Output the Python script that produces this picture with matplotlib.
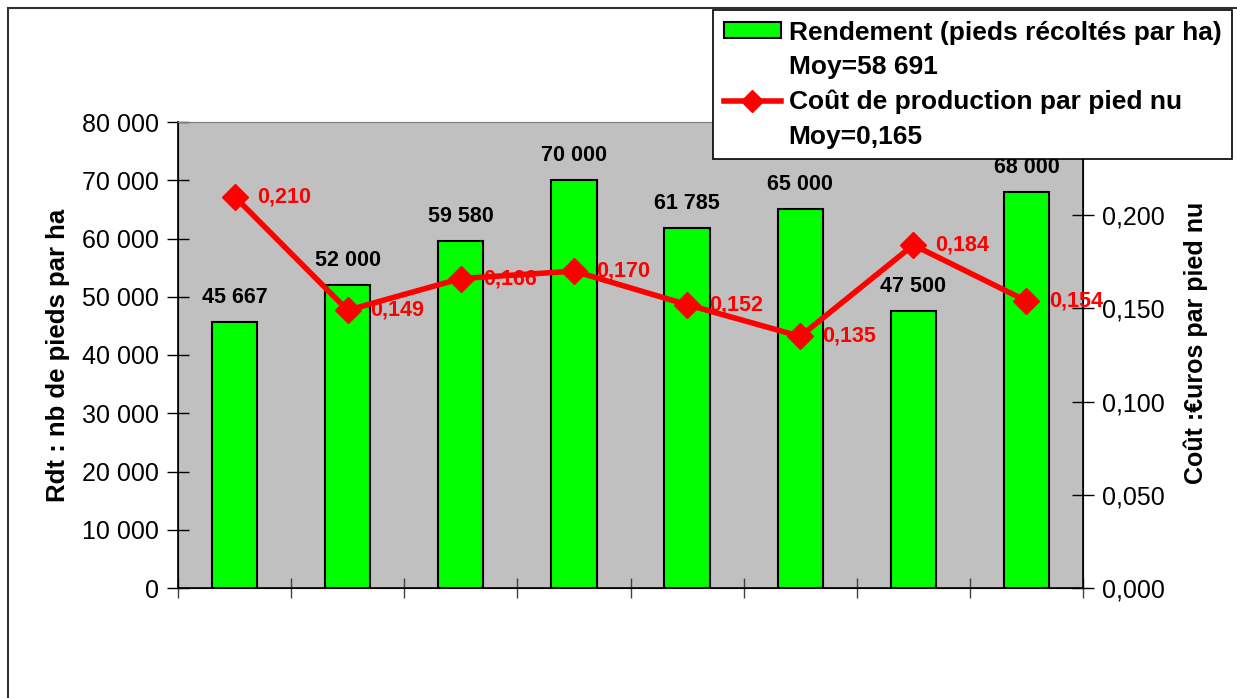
import numpy as np
import matplotlib
matplotlib.use('Agg')
import matplotlib.pyplot as plt
from matplotlib.lines import Line2D
from matplotlib.patches import Patch

plt.rcParams['font.family'] = ['Liberation Sans', 'DejaVu Sans']

# data
rendement = [45667, 52000, 59580, 70000, 61785, 65000, 47500, 68000]
cout = [0.210, 0.149, 0.166, 0.170, 0.152, 0.135, 0.184, 0.154]
rdt_ticks = [0, 10000, 20000, 30000, 40000, 50000, 60000, 70000, 80000]
cout_ticks = [0.0, 0.05, 0.10, 0.15, 0.20]
lbl_rdt = ['Rendement (pieds récoltés par ha)', 'Moy=58 691']
lbl_cout = ['Coût de production par pied nu', 'Moy=0,165']


def fmt_milliers(v):
    return f'{v:,.0f}'.replace(',', ' ')


def fmt_cout(v):
    return f'{v:.3f}'.replace('.', ',')


W, H = 1237, 698
fig = plt.figure(figsize=(W / 100, H / 100), dpi=100)
ax = fig.add_axes([178 / W, 1 - 588 / H, (1083 - 178) / W, (588 - 122) / H])
ax.set_facecolor('#c0c0c0')

x = np.arange(len(rendement))
ax.bar(x, rendement, width=0.4, color='#00ff00', edgecolor='black', linewidth=1.5, zorder=2)
for xi, v in zip(x, rendement):
    ax.annotate(fmt_milliers(v), (xi, v), xytext=(0, 10), textcoords='offset points',
                ha='center', va='bottom', fontsize=15.5, fontweight='bold', color='black')

ax.set_xlim(-0.5, len(rendement) - 0.5)
ax.set_ylim(0, 80000)
ax.set_yticks(rdt_ticks)
ax.set_yticklabels([fmt_milliers(t) for t in rdt_ticks])
ax.set_xticks([])
ax.set_xticks(np.arange(-0.5, len(rendement)), minor=True)
ax.tick_params(axis='x', which='minor', direction='inout', length=14, width=1, color='#404040')
ax.tick_params(axis='y', direction='inout', length=16, width=1, labelsize=18, pad=6)
ax.set_ylabel('Rdt : nb de pieds par ha', fontsize=18.5, fontweight='bold', labelpad=8)
ax.spines['top'].set_color('#808080')
for s in ['left', 'bottom']:
    ax.spines[s].set_linewidth(1.2)

ax2 = ax.twinx()
ax2.plot(x, cout, color='#ff0000', linewidth=4, marker='D', markersize=13, zorder=3)
for xi, v in zip(x, cout):
    ax2.annotate(fmt_cout(v), (xi, v), xytext=(16, 0), textcoords='offset points',
                 ha='left', va='center', fontsize=15.5, fontweight='bold', color='#ff0000')
ax2.set_ylim(0, 0.25)
ax2.set_yticks(cout_ticks)
ax2.set_yticklabels([fmt_cout(t) for t in cout_ticks])
ax2.tick_params(axis='y', direction='inout', length=16, width=1, labelsize=18, pad=6)
ax2.set_ylabel('Coût :€uros par pied nu', fontsize=18, fontweight='bold')
ax2.yaxis.set_label_coords(1.111, 0.525)
ax2.spines['right'].set_linewidth(1.2)
ax2.spines['top'].set_color('#808080')

# legend: one row per text line so the marks sit next to the first line
handles = [
    Patch(facecolor='#00ff00', edgecolor='black', linewidth=1.5),
    Line2D([], [], color='none'),
    Line2D([], [], color='#ff0000', linewidth=4, marker='D', markersize=11),
    Line2D([], [], color='none'),
]
labels = [lbl_rdt[0], lbl_rdt[1], lbl_cout[0], lbl_cout[1]]
leg = fig.legend(handles, labels, loc='upper right', bbox_to_anchor=(1232 / W, 1 - 10 / H),
                 borderaxespad=0, fancybox=False, framealpha=1, edgecolor='black',
                 prop={'size': 19, 'weight': 'bold'}, handlelength=2.15, handleheight=0.55,
                 handletextpad=0.3, labelspacing=0.4, borderpad=0.4)
leg.get_frame().set_linewidth(1.2)
leg.set_zorder(10)

# outer chart frame (only left and top edges are visible in the picture)
fig.add_artist(Line2D([8 / W, 8 / W], [0, 1 - 8 / H], color='#303030', linewidth=1.5))
fig.add_artist(Line2D([8 / W, 1], [1 - 8 / H, 1 - 8 / H], color='#303030', linewidth=1.5))

fig.savefig('out.png', dpi=100)
